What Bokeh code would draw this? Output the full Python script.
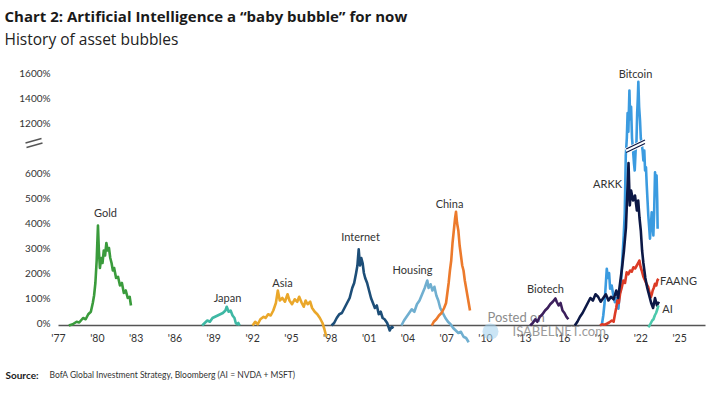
import numpy as np
from bokeh.plotting import figure
from bokeh.models import Range1d, ColumnDataSource
from bokeh.core.properties import value
from bokeh.embed import file_html
from bokeh.resources import INLINE

FONT = "Lato"
TITLE_FONT = "Open Sans"

# ---------------- data (year, % gain) ----------------
gold_x = [1977.8, 1978.1, 1978.4, 1978.6, 1978.9, 1979.1, 1979.3, 1979.5, 1979.65, 1979.75, 1979.85, 1979.95,
          1980.05, 1980.12, 1980.2, 1980.3, 1980.4, 1980.5, 1980.6, 1980.7, 1980.8, 1980.9, 1981.0, 1981.1,
          1981.2, 1981.3, 1981.45, 1981.6, 1981.75, 1981.9, 1982.05, 1982.2, 1982.35, 1982.5, 1982.6]
gold_y = [0, 5, 15, 12, 30, 25, 45, 55, 90, 120, 170, 260,
          400, 300, 230, 270, 250, 300, 280, 330, 300, 310, 270, 250,
          220, 230, 190, 195, 160, 170, 130, 140, 110, 115, 80]

japan_x = [1988.1, 1988.3, 1988.5, 1988.7, 1988.9, 1989.1, 1989.3, 1989.5, 1989.7, 1989.9, 1990.0,
           1990.15, 1990.3, 1990.45, 1990.6, 1990.7, 1990.8, 1990.9, 1991.0]
japan_y = [0, 10, 20, 15, 30, 35, 40, 45, 50, 60, 75,
           55, 60, 40, 30, 10, 5, 10, 0]

asia_x = [1992.0, 1992.2, 1992.4, 1992.6, 1992.85, 1993.0, 1993.2, 1993.4, 1993.6, 1993.8, 1993.95, 1994.1,
          1994.3, 1994.5, 1994.7, 1994.85, 1995.05, 1995.25, 1995.45, 1995.6, 1995.8, 1995.95, 1996.1,
          1996.25, 1996.45, 1996.6, 1996.8, 1997.0, 1997.2, 1997.4, 1997.55, 1997.7]
asia_y = [0, 15, 5, 25, 35, 30, 45, 40, 60, 90, 140, 100,
          110, 95, 125, 100, 85, 105, 95, 115, 90, 75, 100,
          85, 95, 70, 55, 45, 30, 10, -15, -45]

internet_x = [1998.1, 1998.3, 1998.5, 1998.7, 1998.9, 1999.1, 1999.3, 1999.5, 1999.7, 1999.85, 2000.0,
              2000.1, 2000.2, 2000.3, 2000.4, 2000.5, 2000.6, 2000.7, 2000.85, 2001.0, 2001.15, 2001.3,
              2001.45, 2001.6, 2001.75, 2001.9, 2002.05, 2002.2, 2002.4, 2002.6, 2002.75, 2002.9]
internet_y = [0, 10, 30, 45, 50, 70, 90, 110, 150, 170, 210,
              240, 305, 240, 270, 250, 210, 190, 170, 140, 110, 90,
              70, 80, 45, 55, 30, 25, 10, -20, -5, -10]

housing_x = [2003.5, 2003.7, 2003.9, 2004.1, 2004.3, 2004.5, 2004.7, 2004.9, 2005.1, 2005.3, 2005.5,
             2005.6, 2005.75, 2005.9, 2006.05, 2006.2, 2006.35, 2006.5, 2006.7, 2006.9, 2007.1, 2007.3,
             2007.5, 2007.7, 2007.9, 2008.1, 2008.3, 2008.5, 2008.7]
housing_y = [0, 20, 35, 50, 65, 55, 85, 100, 125, 150, 180,
             150, 165, 140, 155, 120, 100, 70, 50, 30, 15, 5,
             -10, -20, -30, -25, -45, -50, -67]

china_x = [2005.85, 2006.0, 2006.2, 2006.4, 2006.6, 2006.8, 2006.95, 2007.05, 2007.15, 2007.25, 2007.35,
           2007.45, 2007.55, 2007.65, 2007.72, 2007.8, 2007.9, 2008.0, 2008.1, 2008.2, 2008.3, 2008.4,
           2008.5, 2008.6, 2008.7, 2008.8]
china_y = [0, 15, 25, 40, 50, 70, 90, 130, 170, 220, 260,
           330, 380, 430, 455, 410, 380, 320, 280, 240, 220, 180,
           150, 120, 90, 60]

biotech_x = [2013.45, 2013.65, 2013.85, 2014.0, 2014.2, 2014.4, 2014.6, 2014.8, 2015.0, 2015.2, 2015.4,
             2015.5, 2015.65, 2015.8, 2015.95, 2016.1, 2016.25, 2016.4]
biotech_y = [0, 10, 25, 15, 35, 45, 60, 70, 85, 95, 108,
             95, 80, 90, 60, 50, 35, 25]

arkk_x = [2016.9, 2017.1, 2017.3, 2017.5, 2017.7, 2017.9, 2018.1, 2018.3, 2018.5, 2018.7, 2018.9,
          2019.1, 2019.3, 2019.5, 2019.7, 2019.9, 2020.1, 2020.25, 2020.4, 2020.55, 2020.7, 2020.85,
          2020.95, 2021.05, 2021.15, 2021.25, 2021.4, 2021.55, 2021.7, 2021.8, 2021.9, 2022.0, 2022.1,
          2022.2, 2022.35, 2022.5, 2022.65, 2022.8, 2022.95, 2023.1, 2023.25, 2023.4]
arkk_y = [0, 15, 35, 50, 70, 90, 110, 100, 125, 115, 95,
          110, 125, 100, 115, 105, 140, 110, 170, 230, 300, 390,
          520, 650, 480, 540, 500, 520, 460, 500, 430, 380, 300,
          250, 190, 150, 120, 90, 70, 110, 80, 95]

bitcoin_x = [2018.98, 2019.1, 2019.2, 2019.3, 2019.37, 2019.45, 2019.55, 2019.63, 2019.75, 2019.88,
             2020.0, 2020.1, 2020.2, 2020.27, 2020.35, 2020.45, 2020.53, 2020.6, 2020.68, 2020.76,
             2020.84, 2020.92, 2020.98, 2021.04, 2021.12, 2021.18, 2021.25, 2021.32, 2021.4, 2021.47,
             2021.53, 2021.6, 2021.66, 2021.72, 2021.77, 2021.81, 2021.87, 2021.94, 2022.0, 2022.07,
             2022.14, 2022.2, 2022.27, 2022.33, 2022.4, 2022.46, 2022.52, 2022.58, 2022.65, 2022.71,
             2022.78, 2022.84, 2022.9, 2022.97, 2023.03, 2023.1, 2023.16, 2023.22, 2023.27, 2023.3]
bitcoin_y = [0, 40, 90, 170, 227, 190, 210, 147, 160, 120,
             93, 110, 85, 67, 120, 147, 227, 290, 360, 450,
             680, 1100, 1300, 1150, 1480, 1250, 1350, 1100, 900, 650,
             620, 800, 1050, 1300, 1420, 1550, 1350, 1240, 1100, 1050,
             700, 660, 720, 620, 633, 560, 500, 440, 390, 347,
             400, 453, 420, 360, 450, 613, 550, 600, 500, 387]

faang_x = [2018.85, 2019.0, 2019.2, 2019.37, 2019.55, 2019.76, 2019.9, 2020.01, 2020.1, 2020.19, 2020.3,
           2020.4, 2020.52, 2020.65, 2020.78, 2020.91, 2021.04, 2021.17, 2021.3, 2021.43, 2021.56,
           2021.69, 2021.8, 2021.89, 2021.98, 2022.07, 2022.2, 2022.33, 2022.45, 2022.58, 2022.68,
           2022.77, 2022.85, 2022.92, 2023.0, 2023.1, 2023.2, 2023.28, 2023.36]
faang_y = [0, 5, 3, 7, 12, 20, 15, 47, 70, 100, 90,
           127, 150, 180, 170, 213, 205, 220, 215, 233, 228,
           240, 250, 260, 235, 220, 195, 180, 165, 153, 130,
           113, 125, 140, 150, 167, 160, 180, 187]

ai_x = [2022.58, 2022.68, 2022.78, 2022.88, 2022.98, 2023.08, 2023.18, 2023.28, 2023.36]
ai_y = [-7, 0, 10, 20, 25, 40, 50, 65, 80]

y_tick_values = [0, 100, 200, 300, 400, 500, 600, 1200, 1400, 1600]
y_tick_labels = [f"{v}%" for v in y_tick_values]
x_tick_years = list(range(1977, 2026, 3))
x_tick_labels = ["'" + str(y)[2:] for y in x_tick_years]

series_names = ["Gold", "Japan", "Asia", "Internet", "Housing", "China", "Biotech", "ARKK", "Bitcoin", "FAANG", "AI"]
series_colors = ["#3a9b3c", "#3fb8a4", "#eaa72a", "#1d4e78", "#70afd0", "#ec7a2c", "#3c1f5c",
                 "#0c1846", "#3b9be0", "#dc3b26", "#4cc9ac"]

# ---------------- broken axis transform ----------------
def to_unit(v):
    v = np.asarray(v, dtype=float)
    return np.where(v <= 700, v / 100.0, np.where(v >= 1000, 7 + (v - 1000) / 200.0, 7.0))

# geometry: plot area origin (x=1977 at px 58, 0% at px 325), 25 px per axis unit
W, H = 709, 406
AX_L, AX_R = 58, 705
BASE = 325
PPU = 25
X0, X1 = 1977, 2027

def dx(px):
    return X0 + (px - AX_L) * (X1 - X0) / (AX_R - AX_L)

def dy(py):
    return (BASE - py) / PPU

p = figure(width=W, height=H, output_backend="svg", toolbar_location=None, title=None,
           x_range=Range1d(dx(0), dx(W)), y_range=Range1d(dy(H), dy(0)),
           x_axis_location=None, y_axis_location=None,
           min_border=0, min_border_left=0, min_border_right=0, min_border_top=0, min_border_bottom=0)
p.outline_line_color = None
p.grid.visible = False
p.background_fill_color = "white"
p.border_fill_color = "white"

def txt(x, y, t, size, color="#333333", align="left", baseline="middle", style="normal", angle=0.0, font=FONT):
    p.text(x=x, y=y, text=t, text_font=value(font), text_font_size=size, text_color=color,
           text_align=align, text_baseline=baseline, text_font_style=style, angle=angle)

# y-axis labels
txt([dx(50)] * len(y_tick_values), list(to_unit(y_tick_values) + 0.1), y_tick_labels, "10px", align="right")
# axis break symbol (two slanted strokes)
p.segment(x0=[dx(26), dx(25)], y0=[dy(147), dy(142.5)], x1=[dx(42), dx(41)], y1=[dy(142.5), dy(138)],
          line_color="#555555", line_width=1.3)

# baseline (x-axis) and x labels
p.line([X0, X1], [0, 0], line_color="#555555", line_width=1.5)
txt(x_tick_years, [dy(337)] * len(x_tick_years), x_tick_labels, "10.5px", align="center")

# watermark
p.scatter(x=[dx(490)], y=[dy(331)], size=16, fill_color="#a9d3ee", fill_alpha=0.6, line_color=None)
txt([dx(487)], [dy(316)], ["Posted on"], "13px", color="#8c8c8c")
txt([dx(512)], [dy(330)], ["ISABELNET.com"], "13px", color="#9a9a9a")

all_series = [(gold_x, gold_y), (japan_x, japan_y), (asia_x, asia_y), (internet_x, internet_y),
              (housing_x, housing_y), (china_x, china_y), (biotech_x, biotech_y), (arkk_x, arkk_y),
              (bitcoin_x, bitcoin_y), (faang_x, faang_y), (ai_x, ai_y)]
draw_order = [0, 1, 2, 3, 4, 5, 6, 8, 9, 7, 10]
for i in draw_order:
    xs, ys = all_series[i]
    p.line(xs, to_unit(ys), line_color=series_colors[i], line_width=2.6, line_join="round")

# break marks on the bitcoin line
bx = np.array(bitcoin_x)
above = bx[np.array(bitcoin_y) >= 700]
mx0, mx1 = above.min() - 0.05, above.max() + 0.05
p.line([mx0, mx1], [6.98, 7.34], line_color="white", line_width=6)
p.line([mx0, mx1], [6.92, 7.28], line_color="#0c1846", line_width=1.3)
p.line([mx0, mx1], [7.06, 7.42], line_color="#0c1846", line_width=1.3)

# series labels
label_px = [(105, 212), (227, 297), (282, 282), (360, 236), (412, 269), (449, 203), (545, 288),
            (607, 183), (635, 73), (678, 280), (667, 308)]
lab_src = ColumnDataSource(dict(x=[dx(a) for a, b in label_px], y=[dy(b) for a, b in label_px], t=series_names))
p.text(x="x", y="y", text="t", source=lab_src, text_font=value(FONT), text_font_size="11px",
       text_color="#333333", text_align="center", text_baseline="middle")

# titles and source
txt([dx(4)], [dy(15.5)], ["Chart 2: Artificial Intelligence a \u201cbaby bubble\u201d for now"], "15px",
    color="#1a1a1a", baseline="alphabetic", style="bold", font=TITLE_FONT)
txt([dx(4)], [dy(38.5)], ["History of asset bubbles"], "15.5px", color="#222222", baseline="alphabetic",
    font=TITLE_FONT)
txt([dx(5)], [dy(374)], ["Source:"], "10px", color="#1a1a1a", baseline="alphabetic", style="bold")
txt([dx(49)], [dy(374)], ["BofA Global Investment Strategy, Bloomberg (AI = NVDA + MSFT)"], "8.5px",
    color="#333333", baseline="alphabetic")

open("out.html", "w").write(file_html(p, INLINE))
